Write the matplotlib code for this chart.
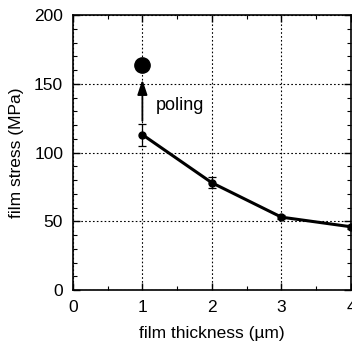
import matplotlib
matplotlib.use("Agg")
import matplotlib.pyplot as plt
from matplotlib.ticker import MultipleLocator

plt.rcParams['font.family'] = ['Liberation Sans', 'DejaVu Sans']

thickness = [1, 2, 3, 4]
stress = [113, 78, 53, 46]
stress_err = [8, 4, 1.5, 1.5]
poled_thickness = [1]
poled_stress = [164]

fig = plt.figure(figsize=(3.52, 3.42), dpi=100)
ax = fig.add_axes([0.207, 0.152, 0.79, 0.804])

ax.errorbar(thickness, stress, yerr=stress_err, color='black', lw=2.2,
            marker='o', markersize=5, capsize=3, elinewidth=0.9, capthick=0.9,
            zorder=3, clip_on=False)
ax.plot(poled_thickness, poled_stress, 'o', color='black', markersize=11, zorder=4)

ax.annotate('', xy=(1, 155), xytext=(1, 121),
            arrowprops=dict(arrowstyle='-|>, head_width=0.3, head_length=0.9',
                            color='black', lw=1.3))
ax.text(1.19, 134, 'poling', fontsize=13, va='center', ha='left')

ax.set_xlim(0, 4)
ax.set_ylim(0, 200)
ax.xaxis.set_major_locator(MultipleLocator(1))
ax.xaxis.set_minor_locator(MultipleLocator(0.5))
ax.yaxis.set_major_locator(MultipleLocator(50))
ax.yaxis.set_minor_locator(MultipleLocator(10))
ax.tick_params(which='both', direction='in', top=True, right=True, labelsize=12.5)
ax.tick_params(which='major', length=5, width=1, pad=7)
ax.tick_params(which='minor', length=3, width=0.8)
ax.grid(True, which='major', color='black', linestyle=(0, (1.5, 2)), lw=0.8)
for s in ax.spines.values():
    s.set_linewidth(1.2)

ax.set_xlabel('film thickness (µm)', fontsize=12.5, labelpad=8)
ax.set_ylabel('film stress (MPa)', fontsize=12.5, labelpad=7)

fig.savefig('out.png', dpi=100)
